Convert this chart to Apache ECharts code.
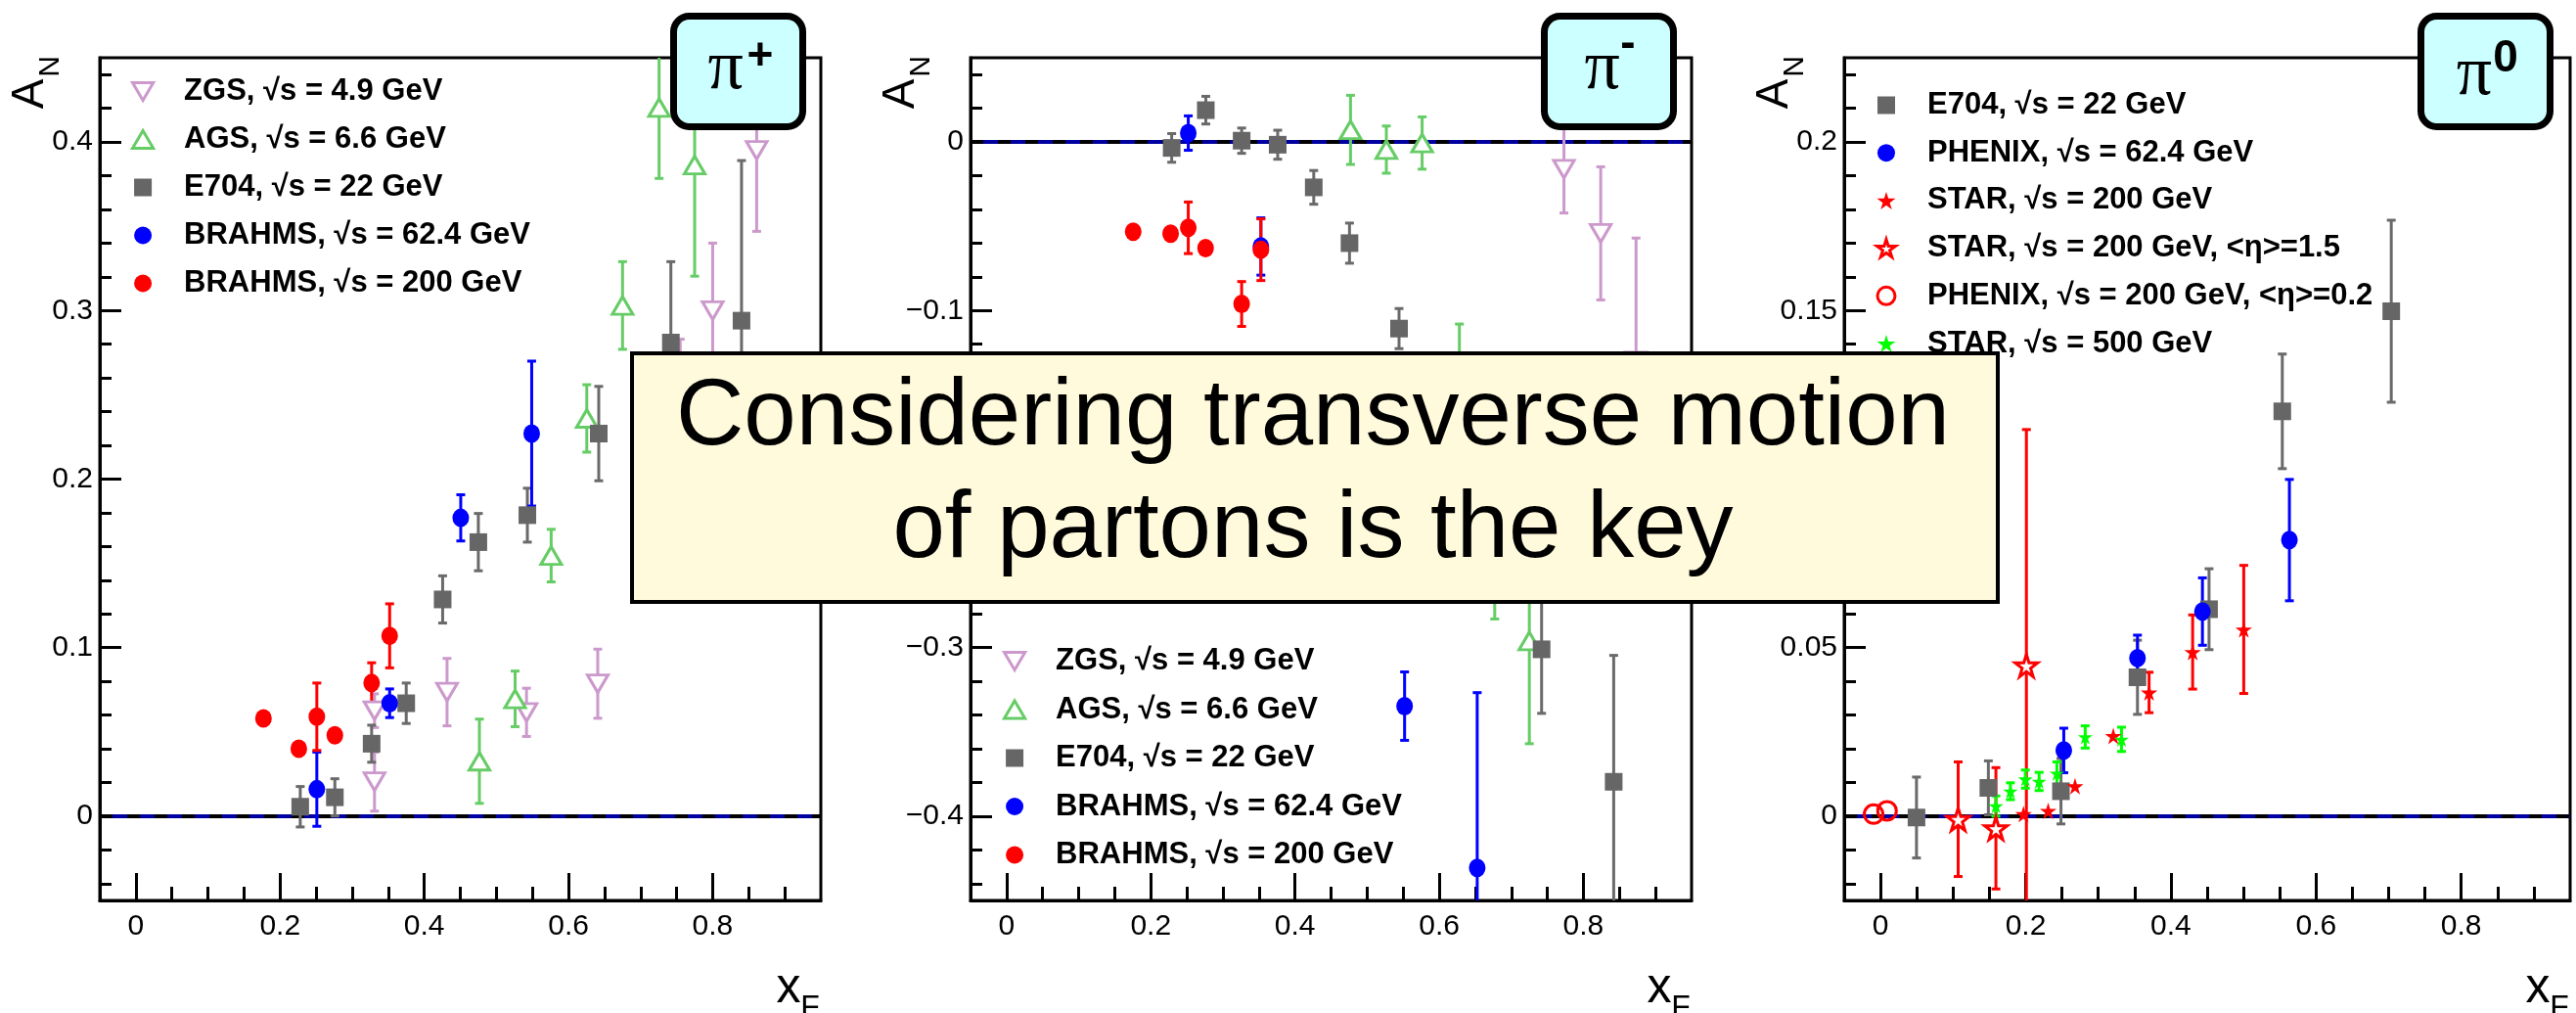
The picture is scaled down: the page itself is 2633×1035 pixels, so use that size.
<!DOCTYPE html>
<html><head><meta charset="utf-8">
<script src="https://cdn.jsdelivr.net/npm/echarts@6/dist/echarts.min.js"></script>
<style>html,body{margin:0;padding:0;background:#fff}#c{width:2633px;height:1035px}</style>
</head><body><div id="c"></div>
<script>
// ---------- tick values ----------
const xMajor = [0, 0.2, 0.4, 0.6, 0.8];
const xMinor = [0.05, 0.1, 0.15, 0.25, 0.3, 0.35, 0.45, 0.5, 0.55, 0.65, 0.7, 0.75, 0.85, 0.9];
const yMajorPip = [0, 0.1, 0.2, 0.3, 0.4];
const yMajorPim = [-0.4, -0.3, -0.2, -0.1, 0];
const yMajorPi0 = [0, 0.05, 0.1, 0.15, 0.2];
function steps(a, b, d, skipEvery) {
  const out = [];
  for (let i = 0; a + i * d <= b + 1e-9; i++) {
    const v = Math.round((a + i * d) * 1000) / 1000;
    if (skipEvery && Math.abs(v / skipEvery - Math.round(v / skipEvery)) < 1e-6) continue;
    out.push(v);
  }
  return out;
}
const yMinorPip = steps(-0.04, 0.44, 0.02, 0.1);
const yMinorPim = steps(-0.44, 0.04, 0.02, 0.1);
const yMinorPi0 = steps(-0.02, 0.22, 0.01, 0.05);
const zeroLine = [[-0.05, 0], [0.95, 0]];

// ---------- series names ----------
const N_ZGS = 'ZGS, √s = 4.9 GeV';
const N_AGS = 'AGS, √s = 6.6 GeV';
const N_E704 = 'E704, √s = 22 GeV';
const N_B62 = 'BRAHMS, √s = 62.4 GeV';
const N_B200 = 'BRAHMS, √s = 200 GeV';
const N_PH62 = 'PHENIX, √s = 62.4 GeV';
const N_ST200 = 'STAR, √s = 200 GeV';
const N_ST200E = 'STAR, √s = 200 GeV, <η>=1.5';
const N_PH200E = 'PHENIX, √s = 200 GeV, <η>=0.2';
const N_ST500 = 'STAR, √s = 500 GeV';

// ---------- data: [xF, A_N, error] ----------
// pi+
const zgsPip = [[0.331,0.0205,0.0175],[0.331,0.0626,0.010],[0.4316,0.0736,0.020],[0.5418,0.0616,0.0143],[0.6406,0.0786,0.0205],[0.755,0.24,0.043],[0.800,0.300,0.040],[0.861,0.395,0.048]];
const agsPip = [[0.4765,0.0326,0.025],[0.526,0.0696,0.0165],[0.576,0.1546,0.0156],[0.6254,0.236,0.020],[0.675,0.303,0.026],[0.7257,0.4204,0.042],[0.775,0.3864,0.066]];
const e704Pip = [[0.228,0.0056,0.012],[0.276,0.0112,0.011],[0.327,0.043,0.011],[0.375,0.067,0.012],[0.4255,0.1286,0.014],[0.475,0.1626,0.017],[0.543,0.1786,0.016],[0.642,0.227,0.028],[0.742,0.281,0.048],[0.840,0.294,0.095]];
const b62Pip = [[0.251,0.016,0.022],[0.352,0.067,0.0085],[0.4506,0.177,0.0137],[0.549,0.227,0.043]];
const b200Pip = [[0.177,0.058,0],[0.226,0.040,0],[0.251,0.059,0.020],[0.276,0.048,0],[0.327,0.079,0.012],[0.352,0.107,0.019]];
// pi-
const zgsPim = [[0.773,-0.0161,0.026],[0.824,-0.0542,0.0395],[0.873,-0.13,0.073]];
const agsPim = [[0.477,0.0072,0.0205],[0.5267,-0.0045,0.014],[0.5763,-0.0006,0.0155],[0.628,-0.14,0.032],[0.677,-0.24,0.043],[0.725,-0.296,0.061]];
const e704Pim = [[0.229,-0.0035,0.0085],[0.2763,0.0189,0.0082],[0.326,0.0008,0.0075],[0.376,-0.0016,0.0086],[0.426,-0.0269,0.010],[0.4756,-0.060,0.0119],[0.5443,-0.1107,0.0119],[0.742,-0.301,0.038],[0.842,-0.3796,0.075]];
const b62Pim = [[0.252,0.0053,0.0102],[0.3527,-0.062,0.017],[0.552,-0.3347,0.0203],[0.6527,-0.4307,0.104]];
const b200Pim = [[0.1756,-0.0532,0],[0.2275,-0.0544,0],[0.252,-0.0509,0.0153],[0.276,-0.063,0],[0.326,-0.0961,0.0133],[0.3527,-0.0639,0.0183]];
// pi0
const e704Pi0 = [[0.0496,-0.0004,0.012],[0.1486,0.0084,0.008],[0.2486,0.0074,0.0097],[0.354,0.0412,0.011],[0.4526,0.0614,0.012],[0.5535,0.1201,0.017],[0.7036,0.1498,0.027]];
const ph62Pi0 = [[0.2525,0.0195,0.0066],[0.354,0.0469,0.0068],[0.4435,0.0607,0.010],[0.5633,0.0819,0.018]];
const st200Pi0 = [[0.197,0.0006,0],[0.231,0.0016,0],[0.268,0.0089,0],[0.3207,0.0238,0],[0.37,0.0367,0.006],[0.43,0.0487,0.011],[0.5004,0.0554,0.019]];
const st200ePi0 = [[0.107,-0.0009,0.017],[0.159,-0.0036,0.018],[0.201,0.0447,0.070]];
const ph200ePi0 = [[-0.0095,0.0006,0],[0.009,0.0016,0]];
const st500Pi0 = [[0.159,0.003,0.003],[0.179,0.0074,0.0025],[0.1996,0.011,0.0027],[0.2185,0.0103,0.0027],[0.243,0.0127,0.0034],[0.282,0.0235,0.0033],[0.332,0.0228,0.0036]];

// ---------- styles ----------
const FONT = 'Liberation Sans';
const STAR = 'path://M50,0L61,35L98,35L68,57L79,91L50,70L21,91L32,57L2,35L39,35Z';
const DOWN = 'path://M0,0L20,0L10,17Z';
const UP = 'path://M10,0L20,17L0,17Z';
const SQUARE = 'path://M0,0L10,0L10,10L0,10Z';
const ST = {
  zgs:   {symbol: DOWN, size: [21, 18], fill: '#fff', stroke: '#cc99cc', bw: 3, err: '#cc99cc'},
  ags:   {symbol: UP, size: [21, 18], fill: '#fff', stroke: '#66cc66', bw: 3, err: '#66cc66'},
  e704:  {symbol: SQUARE, size: 18, fill: '#666666', stroke: '#666666', bw: 0, err: '#6a6a6a'},
  b62:   {symbol: 'circle', size: [17, 19], fill: '#0000ff', stroke: '#0000ff', bw: 0, err: '#0000ff'},
  b200:  {symbol: 'circle', size: [17, 19], fill: '#ff0000', stroke: '#ff0000', bw: 0, err: '#ff0000'},
  st200: {symbol: STAR, size: 17, fill: '#ff0000', stroke: '#ff0000', bw: 0, err: '#ff0000'},
  st200e:{symbol: STAR, size: 23, fill: '#fff', stroke: '#ff0000', bw: 3, err: '#ff0000'},
  ph200e:{symbol: 'circle', size: 19, fill: 'rgba(255,255,255,0)', stroke: '#ff0000', bw: 3, err: '#ff0000'},
  st500: {symbol: STAR, size: 15, fill: '#00ff00', stroke: '#00ff00', bw: 0, err: '#00ff00'}
};

const panels = [
  {grid: {left: 102, top: 59, width: 737, height: 861}, yMin: -0.05, yMax: 0.45, yMajor: yMajorPip, yMinor: yMinorPip,
   sets: [[N_ZGS, zgsPip, ST.zgs], [N_AGS, agsPip, ST.ags], [N_E704, e704Pip, ST.e704], [N_B62, b62Pip, ST.b62], [N_B200, b200Pip, ST.b200]]},
  {grid: {left: 992, top: 59, width: 737, height: 861}, yMin: -0.45, yMax: 0.05, yMajor: yMajorPim, yMinor: yMinorPim,
   sets: [[N_ZGS, zgsPim, ST.zgs], [N_AGS, agsPim, ST.ags], [N_E704, e704Pim, ST.e704], [N_B62, b62Pim, ST.b62], [N_B200, b200Pim, ST.b200]]},
  {grid: {left: 1885, top: 59, width: 742, height: 861}, yMin: -0.025, yMax: 0.225, yMajor: yMajorPi0, yMinor: yMinorPi0,
   sets: [[N_E704, e704Pi0, ST.e704], [N_PH62, ph62Pi0, ST.b62], [N_ST200, st200Pi0, ST.st200], [N_ST200E, st200ePi0, ST.st200e], [N_PH200E, ph200ePi0, ST.ph200e], [N_ST500, st500Pi0, ST.st500]]}
];

function fmt(v) { const a = Math.round(Math.abs(v) * 1000) / 1000; return (v < 0 ? '\u2212' : '') + a; }
function mainAxis(dim, gi, min, max, major, len) {
  return {type: 'value', gridIndex: gi, min: min, max: max, position: dim === 'x' ? 'bottom' : 'left', offset: 0, silent: true,
    axisLine: {show: true, onZero: false, lineStyle: {color: '#000', width: 3}},
    axisTick: {show: true, inside: true, length: len, customValues: major, lineStyle: {color: '#000', width: 3}},
    axisLabel: {show: true, customValues: major, margin: dim === 'x' ? 12 : 7, color: '#000', fontSize: 30, fontFamily: FONT, formatter: fmt},
    splitLine: {show: false}};
}
function minorAxis(dim, gi, min, max, minor, len) {
  return {type: 'value', gridIndex: gi, min: min, max: max, position: dim === 'x' ? 'bottom' : 'left', offset: 0, silent: true,
    axisLine: {show: false, onZero: false},
    axisTick: {show: true, inside: true, length: len, customValues: minor, lineStyle: {color: '#000', width: 3}},
    axisLabel: {show: false}, splitLine: {show: false}};
}
function errBar(color, yMin, yMax) {
  return function (params, api) {
    const x = api.value(0), y = api.value(1), e = api.value(2);
    if (!(e > 0)) return null;
    const hi = Math.min(y + e, yMax), lo = Math.max(y - e, yMin);
    const p1 = api.coord([x, hi]), p2 = api.coord([x, lo]);
    const st = {stroke: color, lineWidth: 3};
    const ch = [{type: 'line', shape: {x1: p1[0], y1: p1[1], x2: p2[0], y2: p2[1]}, style: st}];
    if (y + e <= yMax) ch.push({type: 'line', shape: {x1: p1[0] - 4.5, y1: p1[1], x2: p1[0] + 4.5, y2: p1[1]}, style: st});
    if (y - e >= yMin) ch.push({type: 'line', shape: {x1: p2[0] - 4.5, y1: p2[1], x2: p2[0] + 4.5, y2: p2[1]}, style: st});
    return {type: 'group', children: ch};
  };
}

const grids = [], xAxes = [], yAxes = [], series = [];
panels.forEach(function (p, i) {
  grids.push(Object.assign({show: true, borderColor: '#000', borderWidth: 3, backgroundColor: 'transparent', containLabel: false}, p.grid));
  xAxes.push(mainAxis('x', i, -0.05, 0.95, xMajor, 28));
  xAxes.push(minorAxis('x', i, -0.05, 0.95, xMinor, 14));
  yAxes.push(mainAxis('y', i, p.yMin, p.yMax, p.yMajor, 22));
  yAxes.push(minorAxis('y', i, p.yMin, p.yMax, p.yMinor, 12));
  const ax = {xAxisIndex: i * 2, yAxisIndex: i * 2};
  series.push(Object.assign({type: 'line', name: 'zero-blue-' + i, data: zeroLine, symbol: 'none', z: 1, silent: true,
    lineStyle: {color: '#0000a0', width: 4, type: 'solid'}}, ax));
  series.push(Object.assign({type: 'line', name: 'zero-dash-' + i, data: zeroLine, symbol: 'none', z: 1, silent: true,
    lineStyle: {color: '#000', width: 4, type: [13, 15]}}, ax));
  p.sets.forEach(function (s) {
    const name = s[0], data = s[1], st = s[2];
    series.push(Object.assign({type: 'custom', name: name + ' err ' + i, data: data, z: 2, clip: true, silent: true,
      encode: {x: 0, y: 1}, renderItem: errBar(st.err, p.yMin, p.yMax)}, ax));
    series.push(Object.assign({type: 'scatter', name: name, data: data, z: 3, clip: true, silent: true,
      symbol: st.symbol, symbolSize: st.size, symbolKeepAspect: false,
      itemStyle: {color: st.fill, borderColor: st.stroke, borderWidth: st.bw, opacity: 1}}, ax));
  });
});

function legendAt(left, top, gap, names) {
  return {show: true, orient: 'vertical', left: left, top: top, padding: 0, itemGap: gap, itemWidth: 74, itemHeight: 18,
    selectedMode: false, data: names, symbolKeepAspect: true,
    itemStyle: {borderWidth: 'inherit'},
    textStyle: {fontFamily: FONT, fontWeight: 'bold', fontSize: 31, color: '#000', lineHeight: 30}};
}
const legends = [
  legendAt(134, 78, 18, [N_ZGS, N_AGS, N_E704, N_B62, N_B200]),
  legendAt(1025, 660, 18.5, [N_ZGS, N_AGS, N_E704, N_B62, N_B200]),
  legendAt(1917, 92, 17.7, [N_E704, N_PH62, N_ST200, N_ST200E, N_PH200E, N_ST500])
];

// ---------- annotations ----------
function txt(x, y, text, size, opts) {
  opts = opts || {};
  return {type: 'text', x: x, y: y, z: 100, rotation: opts.rot || 0, silent: true,
    style: {text: text, fontSize: size, fontFamily: opts.family || FONT, fontWeight: opts.weight || 'normal', fill: '#000',
      align: opts.align || 'center', verticalAlign: 'middle', textAlign: opts.align || 'center', textVerticalAlign: 'middle',
      lineHeight: opts.lh}};
}
const graphics = [];
panels.forEach(function (p) {
  const L = p.grid.left, R = p.grid.left + p.grid.width;
  graphics.push(txt(L - 71, 96, 'A', 46, {rot: Math.PI / 2}));
  graphics.push(txt(L - 50, 68, 'N', 30, {rot: Math.PI / 2}));
  graphics.push(txt(R - 33, 1010, 'x', 50));
  graphics.push(txt(R - 11, 1030, 'F', 32));
});
const boxes = [
  {x: 685, sup: '+', px: 741.7, py: 71, sx: 777, sy: 58},
  {x: 1575, sup: '-', px: 1637.6, py: 71, sx: 1664, sy: 45},
  {x: 2471, sup: '0', px: 2529, py: 77, sx: 2561, sy: 60}
];
boxes.forEach(function (b) {
  graphics.push({type: 'rect', z: 99, silent: true, shape: {x: b.x + 3.5, y: 16.5, width: 132, height: 113, r: 16},
    style: {fill: '#ccffff', stroke: '#000', lineWidth: 7}});
  graphics.push(txt(b.px, b.py, 'π', 72, {family: 'Liberation Serif'}));
  graphics.push(txt(b.sx, b.sy, b.sup, 46, {weight: 'bold'}));
});
graphics.push({type: 'rect', z: 98, silent: true, shape: {x: 646, y: 361, width: 1396, height: 254},
  style: {fill: '#fffadc', stroke: '#000', lineWidth: 4}});
graphics.push(txt(1342, 485, 'Considering transverse motion\nof partons is the key', 96, {lh: 115}));

const chart = echarts.init(document.getElementById('c'), null, {renderer: 'canvas'});
chart.setOption({
  backgroundColor: '#fff',
  animation: false,
  grid: grids,
  xAxis: xAxes,
  yAxis: yAxes,
  legend: legends,
  series: series,
  graphic: {elements: graphics}
});
</script></body></html>
